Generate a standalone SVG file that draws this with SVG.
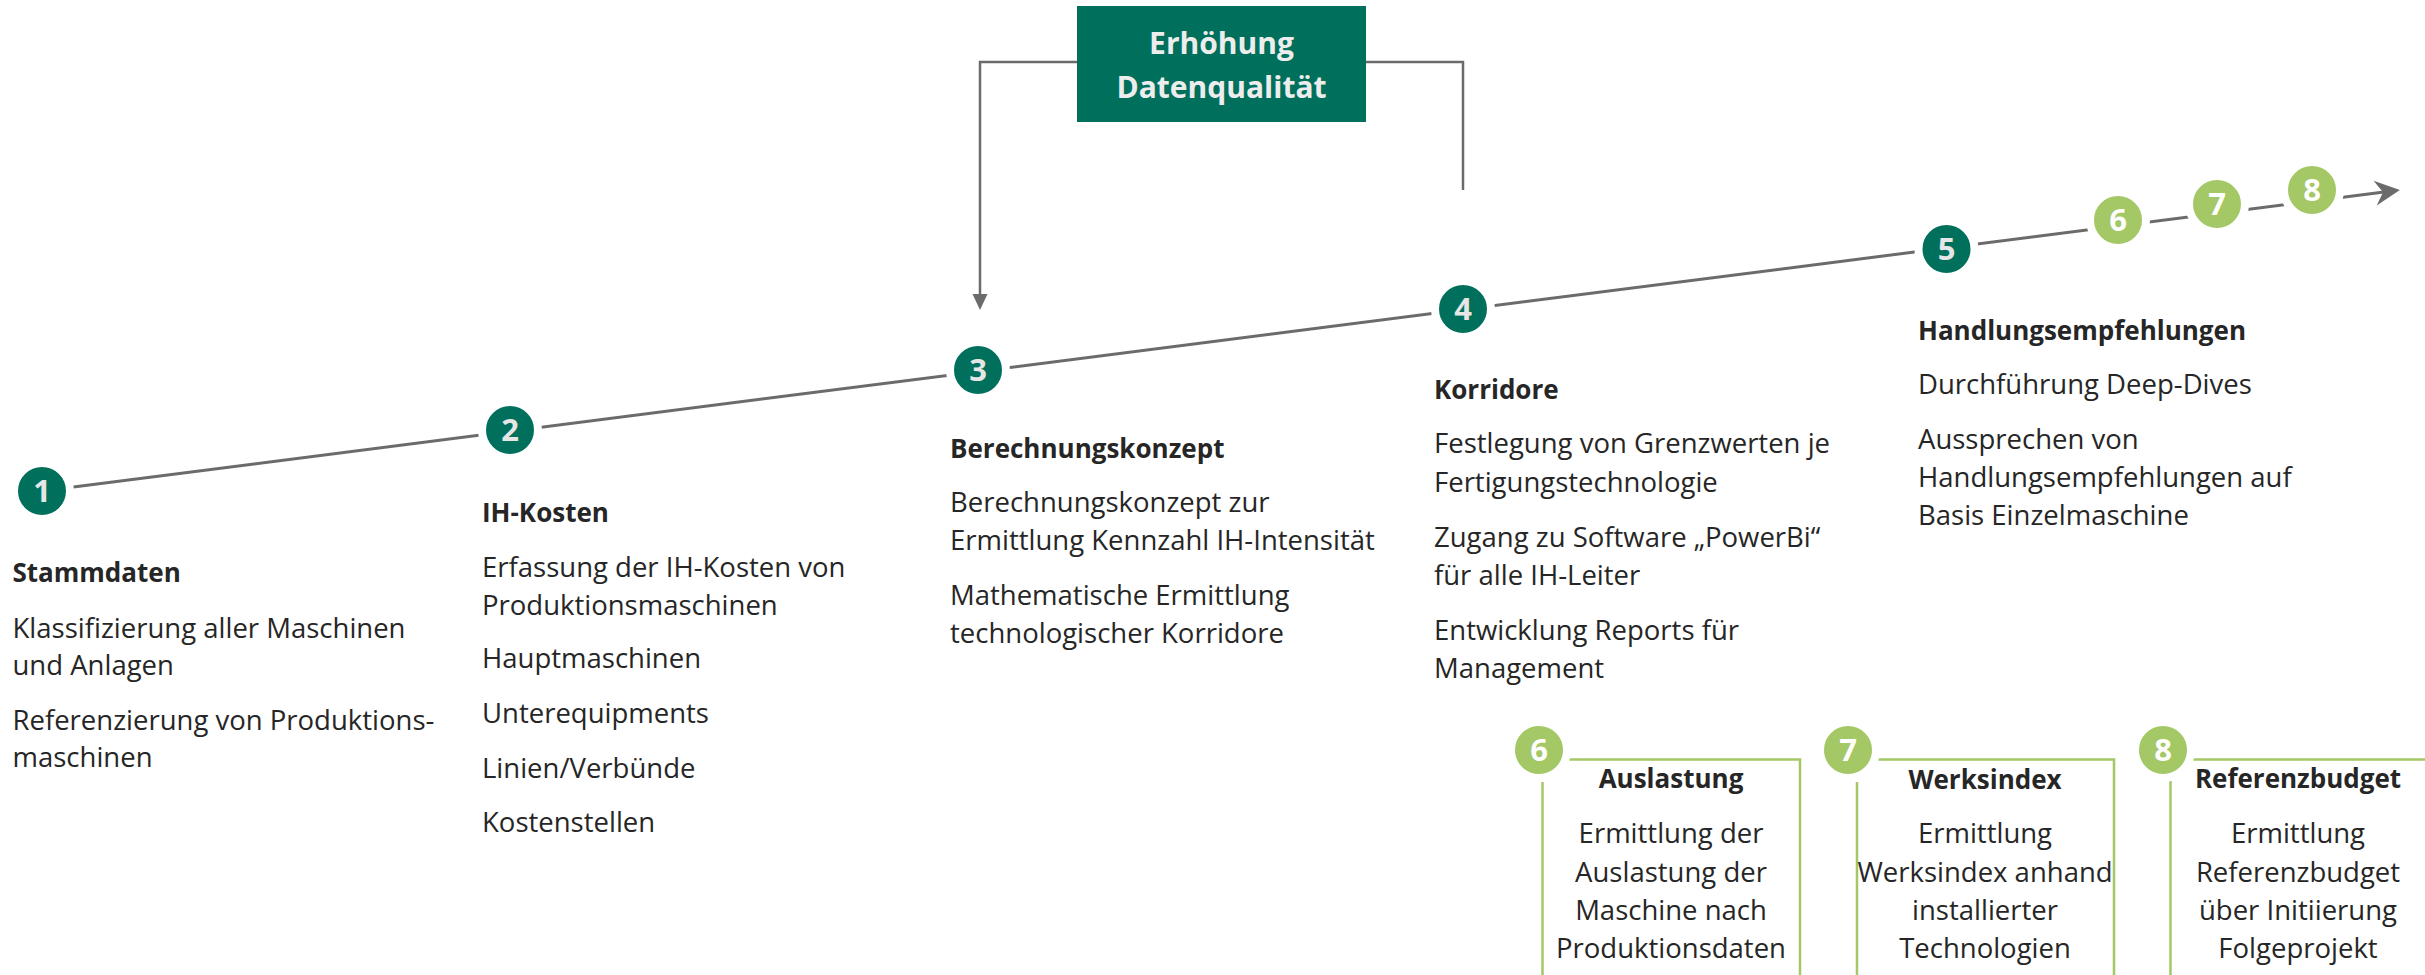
<svg xmlns="http://www.w3.org/2000/svg" width="2425" height="975" viewBox="0 0 2425 975">
  <defs>
    <style>
      .txt { font-family: "Open Sans", "Noto Sans", sans-serif; font-size: 27.5px; fill: #262626; }
      .head { font-family: "Open Sans", "Noto Sans", sans-serif; font-size: 26px; font-weight: 700; fill: #262626; }
      .mid { text-anchor: middle; }
      .num { font-family: "Open Sans", "Noto Sans", sans-serif; font-size: 31px; font-weight: 700; text-anchor: middle; }
      .dark { fill: #00705c; stroke: #ffffff; stroke-width: 8; }
      .light { fill: #a3c865; stroke: #ffffff; stroke-width: 8; }
      .dark-num { fill: #e6e6e6; }
      .light-num { fill: #ffffff; }
      .conn { fill: none; stroke: #6b6b6b; }
      .frame { fill: none; stroke: #a3c865; stroke-width: 2.5; }
      .banner-txt { font-family: "Open Sans", "Noto Sans", sans-serif; font-size: 30px; font-weight: 700; fill: #ededed; text-anchor: middle; }
    </style>
    <marker id="stealth" markerUnits="userSpaceOnUse" markerWidth="40" markerHeight="40" refX="0" refY="0" orient="auto" overflow="visible">
      <path d="M10,0 L-15,-12.5 L-7,0 L-15,12.5 Z" fill="#6b6b6b"/>
    </marker>
    <marker id="tri" markerUnits="userSpaceOnUse" markerWidth="30" markerHeight="30" refX="0" refY="0" orient="auto" overflow="visible">
      <path d="M10,0 L-6,-7.5 L-6,7.5 Z" fill="#6b6b6b"/>
    </marker>
  </defs>

  <rect width="2425" height="975" fill="#ffffff"/>

  <!-- connectors: timeline and feedback bracket -->
  <g id="connectors">
    <path class="conn" stroke-width="3" d="M42,491 L2390,191.3" marker-end="url(#stealth)"/>
    <path class="conn" stroke-width="2.5" d="M1077,62 H980 V300" marker-end="url(#tri)"/>
    <path class="conn" stroke-width="2.5" d="M1366,62 H1463 V190"/>
  </g>

  <!-- banner above the timeline -->
  <g id="banner">
    <rect x="1077" y="6" width="289" height="116" fill="#00705c"/>
    <text class="banner-txt" x="1221.5" y="54">Erhöhung</text>
    <text class="banner-txt" x="1221.5" y="98">Datenqualität</text>
  </g>

  <!-- step 1 -->
  <g id="step1">
    <circle class="dark" cx="42" cy="491" r="28"/>
    <text class="num dark-num" x="42" y="502">1</text>
    <text class="head" x="12.5" y="582">Stammdaten</text>
    <text class="txt" x="12.5" y="638">Klassifizierung aller Maschinen</text>
    <text class="txt" x="12.5" y="675">und Anlagen</text>
    <text class="txt" x="12.5" y="730">Referenzierung von Produktions-</text>
    <text class="txt" x="12.5" y="767">maschinen</text>
  </g>

  <!-- step 2 -->
  <g id="step2">
    <circle class="dark" cx="510" cy="430" r="28"/>
    <text class="num dark-num" x="510" y="441">2</text>
    <text class="head" x="482" y="522">IH-Kosten</text>
    <text class="txt" x="482" y="577">Erfassung der IH-Kosten von</text>
    <text class="txt" x="482" y="615">Produktionsmaschinen</text>
    <text class="txt" x="482" y="668">Hauptmaschinen</text>
    <text class="txt" x="482" y="723">Unterequipments</text>
    <text class="txt" x="482" y="778">Linien/Verbünde</text>
    <text class="txt" x="482" y="832">Kostenstellen</text>
  </g>

  <!-- step 3 -->
  <g id="step3">
    <circle class="dark" cx="978" cy="370" r="28"/>
    <text class="num dark-num" x="978" y="381">3</text>
    <text class="head" x="950" y="458">Berechnungskonzept</text>
    <text class="txt" x="950" y="512">Berechnungskonzept zur</text>
    <text class="txt" x="950" y="550">Ermittlung Kennzahl IH-Intensität</text>
    <text class="txt" x="950" y="605">Mathematische Ermittlung</text>
    <text class="txt" x="950" y="643">technologischer Korridore</text>
  </g>

  <!-- step 4 -->
  <g id="step4">
    <circle class="dark" cx="1463" cy="309" r="28"/>
    <text class="num dark-num" x="1463" y="320">4</text>
    <text class="head" x="1434" y="399">Korridore</text>
    <text class="txt" x="1434" y="453">Festlegung von Grenzwerten je</text>
    <text class="txt" x="1434" y="492">Fertigungstechnologie</text>
    <text class="txt" x="1434" y="547">Zugang zu Software „PowerBi“</text>
    <text class="txt" x="1434" y="585">für alle IH-Leiter</text>
    <text class="txt" x="1434" y="640">Entwicklung Reports für</text>
    <text class="txt" x="1434" y="678">Management</text>
  </g>

  <!-- step 5 -->
  <g id="step5">
    <circle class="dark" cx="1946.5" cy="249" r="28"/>
    <text class="num dark-num" x="1946.5" y="260">5</text>
    <text class="head" x="1918" y="340">Handlungsempfehlungen</text>
    <text class="txt" x="1918" y="394">Durchführung Deep-Dives</text>
    <text class="txt" x="1918" y="449">Aussprechen von</text>
    <text class="txt" x="1918" y="487">Handlungsempfehlungen auf</text>
    <text class="txt" x="1918" y="525">Basis Einzelmaschine</text>
  </g>

  <!-- future steps on the timeline -->
  <g id="step6-marker">
    <circle class="light" cx="2118" cy="220" r="28"/>
    <text class="num light-num" x="2118" y="231">6</text>
  </g>
  <g id="step7-marker">
    <circle class="light" cx="2217" cy="204" r="28"/>
    <text class="num light-num" x="2217" y="215">7</text>
  </g>
  <g id="step8-marker">
    <circle class="light" cx="2312" cy="190" r="28"/>
    <text class="num light-num" x="2312" y="201">8</text>
  </g>

  <!-- detail panel 6 -->
  <g id="panel6">
    <path class="frame" d="M1568,759.5 H1800 V975 M1542.5,782 V975"/>
    <circle class="light" cx="1539" cy="750" r="28" stroke-width="0"/>
    <text class="num light-num" x="1539" y="761">6</text>
    <text class="head mid" x="1671" y="788">Auslastung</text>
    <text class="txt mid" x="1671" y="843">Ermittlung der</text>
    <text class="txt mid" x="1671" y="882">Auslastung der</text>
    <text class="txt mid" x="1671" y="920">Maschine nach</text>
    <text class="txt mid" x="1671" y="958">Produktionsdaten</text>
  </g>

  <!-- detail panel 7 -->
  <g id="panel7">
    <path class="frame" d="M1878,759.5 H2114 V975 M1857,782 V975"/>
    <circle class="light" cx="1848" cy="750" r="28" stroke-width="0"/>
    <text class="num light-num" x="1848" y="761">7</text>
    <text class="head mid" x="1985" y="789">Werksindex</text>
    <text class="txt mid" x="1985" y="843">Ermittlung</text>
    <text class="txt mid" x="1985" y="882">Werksindex anhand</text>
    <text class="txt mid" x="1985" y="920">installierter</text>
    <text class="txt mid" x="1985" y="958">Technologien</text>
  </g>

  <!-- detail panel 8 -->
  <g id="panel8">
    <path class="frame" d="M2192,759.5 H2425 M2170.5,780 V975"/>
    <circle class="light" cx="2163" cy="750" r="28" stroke-width="0"/>
    <text class="num light-num" x="2163" y="761">8</text>
    <text class="head mid" x="2298" y="788">Referenzbudget</text>
    <text class="txt mid" x="2298" y="843">Ermittlung</text>
    <text class="txt mid" x="2298" y="882">Referenzbudget</text>
    <text class="txt mid" x="2298" y="920">über Initiierung</text>
    <text class="txt mid" x="2298" y="958">Folgeprojekt</text>
  </g>
</svg>
